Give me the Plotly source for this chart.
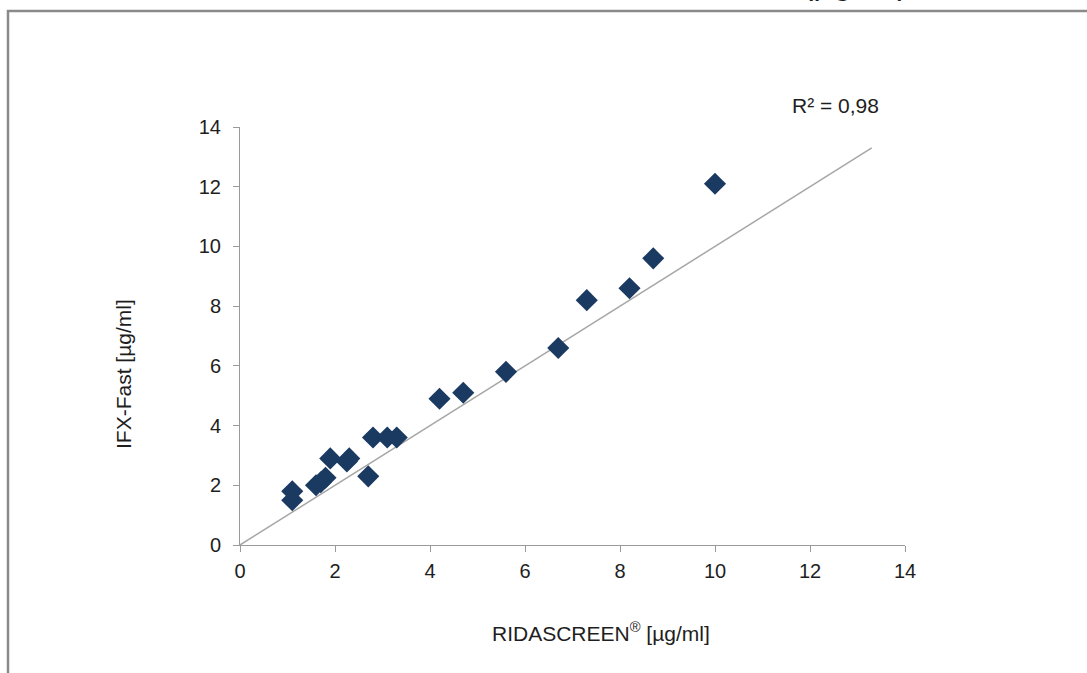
import plotly.graph_objects as go

# Data
ridascreen = [1.1, 1.1, 1.6, 1.7, 1.8, 1.9, 2.25, 2.3, 2.7, 2.8, 3.1, 3.3,
              4.2, 4.7, 5.6, 6.7, 7.3, 8.2, 8.7, 10.0]
ifx_fast = [1.8, 1.5, 2.0, 2.1, 2.25, 2.9, 2.8, 2.9, 2.3, 3.6, 3.6, 3.6,
            4.9, 5.1, 5.8, 6.6, 8.2, 8.6, 9.6, 12.1]
trend_x = [0, 13.3]
trend_y = [0, 13.3]
tick_vals = [0, 2, 4, 6, 8, 10, 12, 14]
r2_label = "R² = 0,98"
x_title = "RIDASCREEN<sup>®</sup> [µg/ml]"
y_title = "IFX-Fast [µg/ml]"
top_text = "(µg/ml)"

W, H = 1087, 673
L, R, T, B = 240, 905, 127, 545  # plot area pixels


def px(xp):
    return (xp - L) / (R - L)


def py(yp):
    return (B - yp) / (B - T)


FONT = "Arial, Liberation Sans, sans-serif"
TXT = "#1E1E1E"

fig = go.Figure()
fig.add_trace(go.Scatter(x=trend_x, y=trend_y, mode="lines",
                         line=dict(color="#A6A6A6", width=1.5),
                         hoverinfo="skip", showlegend=False))
fig.add_trace(go.Scatter(x=ridascreen, y=ifx_fast, mode="markers",
                         marker=dict(symbol="diamond", size=17, color="#1A3A62",
                                     line=dict(width=0)),
                         showlegend=False))

axis_common = dict(range=[0, 14], tickvals=tick_vals, showgrid=False,
                   zeroline=False, showline=True, linecolor="#9A9A9A",
                   linewidth=1, ticks="outside", ticklen=6, tickcolor="#9A9A9A",
                   tickfont=dict(family=FONT, size=20, color=TXT))

fig.update_layout(
    width=W, height=H,
    margin=dict(l=L, r=W - R, t=T, b=H - B, pad=0),
    paper_bgcolor="white", plot_bgcolor="white",
    font=dict(family=FONT, color=TXT),
    xaxis=dict(**axis_common, ticklabelstandoff=2),
    yaxis=dict(**axis_common, ticklabelstandoff=8),
    annotations=[
        dict(text=r2_label, xref="paper", yref="paper", x=px(835), y=py(105),
             showarrow=False, font=dict(family=FONT, size=21, color=TXT),
             xanchor="center", yanchor="middle"),
        dict(text=x_title, xref="paper", yref="paper", x=px(601), y=py(632),
             showarrow=False, font=dict(family=FONT, size=21, color=TXT),
             xanchor="center", yanchor="middle"),
        dict(text=y_title, xref="paper", yref="paper", x=px(123), y=py(374),
             showarrow=False, font=dict(family=FONT, size=21, color=TXT),
             xanchor="center", yanchor="middle", textangle=-90),
        dict(text=top_text, xref="paper", yref="paper", x=px(855), y=py(-18),
             showarrow=False, font=dict(family=FONT, size=34, color=TXT),
             xanchor="center", yanchor="middle"),
    ],
    shapes=[
        dict(type="rect", xref="paper", yref="paper",
             x0=px(8), y0=py(H + 10), x1=px(W + 10), y1=py(11),
             line=dict(color="#8A8A8A", width=2.5), fillcolor="rgba(0,0,0,0)",
             layer="below"),
    ],
)

fig.write_html("out.html", config={"displayModeBar": False},
               post_script="document.body.style.margin='0';document.body.style.padding='0';")
